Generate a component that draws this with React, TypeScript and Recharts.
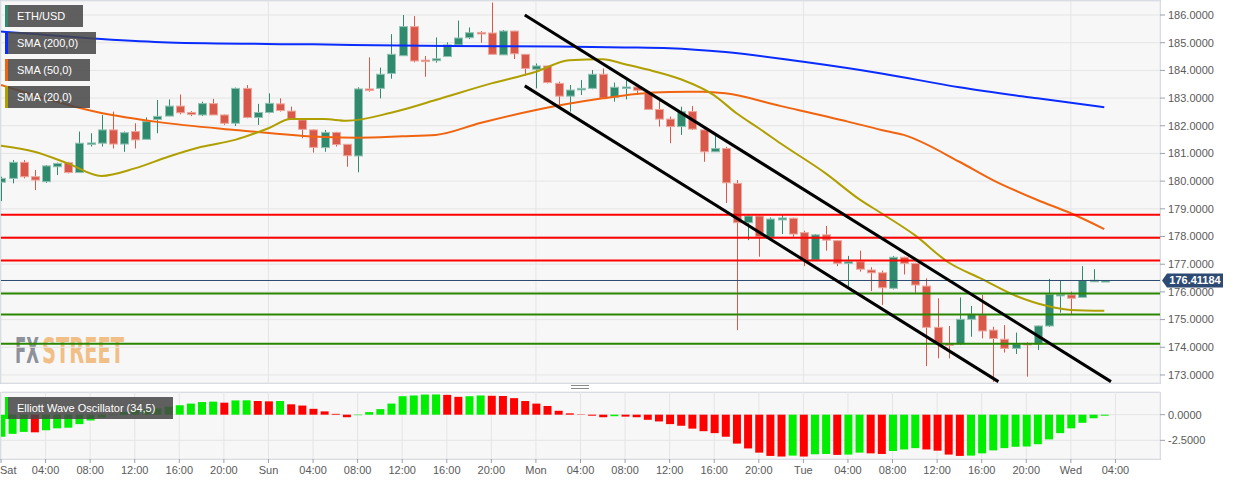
import React from "react";
import {
  ComposedChart,
  Bar,
  Line,
  XAxis,
  YAxis,
  CartesianGrid,
  ReferenceLine,
  Cell,
} from "recharts";

// Hourly ETH/USD candles, index = hours since Sat 00:00 (last one is Wed 03:00).
const opens = [
  179.96, 180.1, 180.68, 180.16, 179.98, 180.52, 180.67, 180.31, 181.37, 181.37,
  181.85, 181.34, 181.79, 181.51, 182.23, 182.35, 182.71, 182.48, 182.39, 182.8,
  182.39, 182.09, 183.35, 182.3, 182.48, 182.79, 182.53, 182.21, 181.85, 181.21,
  181.76, 181.33, 180.91, 183.33, 183.35, 183.89, 184.53, 185.58, 184.37, 184.35,
  184.5, 184.92, 185.18, 185.37, 185.35, 184.56, 185.42, 184.58, 184.04, 184.16,
  183.53, 183.07, 183.32, 183.35, 183.86, 183.03, 183.37, 183.4, 183.17, 182.59,
  182.24, 181.97, 182.51, 181.85, 181.06, 181.18, 179.92, 178.5, 178.74, 177.97,
  178.6, 178.66, 178.14, 177.15, 178.06, 177.85, 177.03, 177.09, 176.79, 176.69,
  176.13, 177.25, 177.03, 176.21, 174.72, 174.12, 174.12, 175.01, 175.17, 174.62,
  174.29, 173.96, 174.14, 174.12, 174.77, 175.86, 175.89, 175.8, 176.39, 176.39,
];
const highs = [
  180.16, 180.76, 180.76, 180.4, 180.58, 180.67, 180.7, 181.79, 181.73, 182.39,
  182.51, 181.79, 182.09, 182.3, 182.93, 182.95, 183.13, 182.53, 182.87, 182.97,
  182.41, 183.38, 183.47, 182.79, 183.17, 182.99, 182.69, 182.27, 181.87, 181.85,
  181.78, 181.33, 183.39, 184.47, 184.1, 185.31, 186.0, 185.96, 184.52, 185.19,
  185.01, 185.8, 185.55, 185.42, 186.45, 185.46, 185.43, 184.58, 184.25, 184.16,
  183.59, 183.47, 183.65, 184.01, 184.07, 183.56, 183.65, 183.47, 183.19, 182.95,
  182.33, 182.69, 182.71, 181.87, 181.63, 181.24, 180.04, 178.78, 178.76, 178.69,
  178.78, 178.68, 178.21, 178.09, 178.38, 177.87, 177.3, 177.49, 176.89, 176.77,
  177.3, 177.27, 177.05, 176.49, 175.77, 174.77, 175.8, 175.49, 175.89, 174.74,
  174.8, 174.53, 174.18, 174.79, 176.47, 176.41, 176.01, 176.93, 176.82, 176.43,
];
const lows = [
  179.28, 179.92, 180.1, 179.68, 179.94, 180.22, 180.28, 180.31, 181.25, 181.25,
  181.18, 181.06, 181.18, 181.51, 181.73, 182.35, 182.41, 182.35, 182.35, 182.39,
  182.03, 181.99, 182.27, 182.03, 182.45, 182.51, 182.21, 181.55, 181.03, 181.06,
  181.25, 180.52, 180.32, 183.23, 182.99, 183.7, 184.53, 184.29, 183.77, 184.28,
  184.5, 184.92, 185.13, 185.0, 184.56, 184.56, 184.41, 183.81, 183.35, 183.53,
  182.71, 182.51, 183.11, 183.32, 183.0, 182.87, 182.95, 183.11, 182.57, 181.97,
  181.37, 181.67, 181.85, 180.7, 181.06, 179.21, 174.62, 177.87, 177.27, 177.93,
  178.09, 177.99, 176.93, 177.15, 177.49, 176.93, 176.19, 176.73, 176.03, 175.53,
  176.09, 176.63, 175.97, 173.32, 173.6, 173.6, 174.08, 174.38, 174.32, 172.75,
  173.81, 173.76, 172.94, 173.9, 174.74, 175.25, 175.2, 175.8, 176.37, 176.37,
];
const closes = [
  180.1, 180.68, 180.16, 180.04, 180.55, 180.64, 180.31, 181.37, 181.38, 181.85,
  181.34, 181.75, 181.49, 182.15, 182.34, 182.71, 182.47, 182.41, 182.8, 182.39,
  182.09, 183.35, 182.3, 182.48, 182.81, 182.55, 182.23, 181.87, 181.22, 181.76,
  181.32, 180.92, 183.33, 183.28, 183.86, 184.58, 185.58, 184.34, 184.33, 184.42,
  184.92, 185.17, 185.36, 185.34, 184.58, 185.42, 184.6, 184.07, 184.16, 183.56,
  183.07, 183.29, 183.35, 183.86, 183.0, 183.39, 183.4, 183.28, 182.59, 182.24,
  181.97, 182.51, 181.88, 181.06, 181.18, 179.94, 178.5, 178.74, 177.99, 178.63,
  178.67, 178.09, 177.15, 178.06, 177.87, 177.03, 177.09, 176.82, 176.69, 176.15,
  177.25, 177.03, 176.25, 174.72, 174.12, 174.08, 175.01, 175.19, 174.59, 174.32,
  173.96, 174.12, 174.12, 174.77, 175.91, 175.91, 175.77, 176.41, 176.42, 176.41,
];

// Elliott Wave Oscillator (34,5), one value per candle
const ewo = [
  -2.15, -1.87, -1.68, -1.72, -1.52, -1.33, -1.27, -0.92, -0.57, -0.28,
  -0.05, 0.25, 0.45, 0.52, 0.62, 0.78, 0.92, 1.08, 1.23, 1.27,
  1.17, 1.39, 1.4, 1.33, 1.3, 1.33, 1.01, 0.89, 0.57, 0.32,
  0.08, -0.25, -0.05, 0.25, 0.54, 1.08, 1.8, 1.87, 1.96, 1.97,
  1.93, 1.74, 1.8, 1.87, 1.84, 1.82, 1.61, 1.33, 1.08, 0.85,
  0.38, 0.13, -0.03, -0.1, -0.25, -0.15, -0.19, -0.25, -0.5, -0.66,
  -0.92, -1.08, -1.36, -1.61, -1.8, -2.15, -2.82, -3.29, -3.7, -4.02,
  -4.08, -3.99, -4.08, -3.86, -3.83, -3.92, -3.89, -3.7, -3.77, -3.83,
  -3.54, -3.39, -3.26, -3.39, -3.51, -3.89, -4.02, -3.99, -3.77, -3.48,
  -3.26, -3.13, -3.1, -2.88, -2.41, -1.8, -1.33, -0.79, -0.35, -0.1,
];

// moving averages, read at a handful of candles
const sma20Hours = [0, 3, 6, 9, 12, 15, 18, 21, 24, 26, 29, 31, 35, 39, 44, 48, 51, 54, 56, 58, 61, 64, 66, 68, 70, 74, 77, 79, 82, 85, 88, 91, 94, 96, 99];
const sma20Values = [181.28, 181.06, 180.64, 180.19, 180.46, 180.88, 181.24, 181.49, 181.91, 182.24, 182.24, 182.18, 182.47, 182.93, 183.53, 183.95, 184.37, 184.4, 184.22, 184.03, 183.68, 183.1, 182.45, 181.91, 181.35, 180.28, 179.35, 178.84, 178.05, 177.07, 176.47, 175.87, 175.48, 175.35, 175.32];
const sma50Hours = [0, 9, 14, 21, 29, 32, 36, 39, 43, 48, 54, 57, 60, 63, 65, 70, 76, 79, 81, 86, 89, 93, 96, 99];
const sma50Values = [183.47, 182.46, 182.14, 181.85, 181.59, 181.57, 181.62, 181.67, 182.1, 182.57, 182.99, 183.15, 183.22, 183.23, 183.17, 182.71, 182.15, 181.85, 181.67, 180.7, 180.04, 179.32, 178.84, 178.27];
const sma200Hours = [0, 3, 9, 15, 28, 40, 50, 56, 60, 65, 72, 79, 86, 93, 99];
const sma200Values = [185.4, 185.31, 185.13, 185.01, 184.94, 184.88, 184.86, 184.83, 184.8, 184.66, 184.31, 183.89, 183.39, 182.99, 182.67];

// descending channel: [hour, price] at both ends
const channelUpper = [[47, 186.0], [99.6, 172.76]];
const channelLower = [[47, 183.44], [89.5, 172.76]];

const resistance = [178.79, 177.96, 177.13];
const support = [175.94, 175.18, 174.13];
const lastPrice = 176.41184;

const priceTicks = [173, 174, 175, 176, 177, 178, 179, 180, 181, 182, 183, 184, 185, 186];
const ewoTicks = [0, -2.5];
const dayHours = [24, 48, 72, 96];
const tickLabels = [
  "Sat", "04:00", "08:00", "12:00", "16:00", "20:00",
  "Sun", "04:00", "08:00", "12:00", "16:00", "20:00",
  "Mon", "04:00", "08:00", "12:00", "16:00", "20:00",
  "Tue", "04:00", "08:00", "12:00", "16:00", "20:00",
  "Wed", "04:00",
];
const timeTicks = tickLabels.map((_, i) => i * 4);

const FONT = "'Liberation Sans', Arial, sans-serif";
const UP = "#2f8a6e";
const DOWN = "#d8584a";

const pick = (hours: number[], values: number[], h: number) => {
  const k = hours.indexOf(h);
  return k >= 0 ? values[k] : null;
};

const data = opens.map((o, i) => ({
  h: i,
  open: o,
  high: highs[i],
  low: lows[i],
  close: closes[i],
  range: [lows[i], highs[i]],
  ewo: ewo[i],
  sma20: pick(sma20Hours, sma20Values, i),
  sma50: pick(sma50Hours, sma50Values, i),
  sma200: pick(sma200Hours, sma200Values, i),
}));

function Candle(props: any) {
  const { x, y, width, height, payload } = props;
  const { open, close, high, low } = payload;
  const top = Math.min(y, y + height);
  const span = Math.abs(height);
  const toY = (p: number) =>
    high === low ? top : top + ((high - p) / (high - low)) * span;
  const up = close >= open;
  const color = up ? UP : DOWN;
  const bTop = toY(Math.max(open, close));
  const bBot = toY(Math.min(open, close));
  const cx = Math.round(x + width / 2) + 0.5;
  return (
    <g>
      <line x1={cx} x2={cx} y1={top} y2={top + span} stroke={color} strokeWidth={1} />
      <rect
        x={cx - 4}
        y={bTop}
        width={8}
        height={Math.max(1.5, bBot - bTop)}
        fill={color}
        stroke={up ? "#93c3b4" : "#eea69d"}
        strokeWidth={1}
      />
    </g>
  );
}

function PriceTag(props: any) {
  const { viewBox } = props;
  const x0 = viewBox.x + viewBox.width;
  const y0 = viewBox.y;
  return (
    <g>
      <path
        d={`M${x0 + 2},${y0} L${x0 + 7},${y0 - 7} L${x0 + 63},${y0 - 7} L${x0 + 63},${y0 + 7} L${x0 + 7},${y0 + 7} Z`}
        fill="#2d4b72"
      />
      <text
        x={x0 + 35}
        y={y0}
        dy="0.36em"
        textAnchor="middle"
        fill="#fff"
        fontSize={11}
        fontWeight="bold"
        fontFamily={FONT}
      >
        {lastPrice.toFixed(5)}
      </text>
    </g>
  );
}

function TimeTick(props: any) {
  const { x, y, payload } = props;
  const first = payload.value === 0;
  return (
    <text
      x={first ? 0 : x}
      y={y}
      dy="0.71em"
      textAnchor={first ? "start" : "middle"}
      fill="#5a5a5a"
      fontSize={11}
      fontFamily={FONT}
    >
      {tickLabels[payload.value / 4]}
    </text>
  );
}

function Tag({ top, width, color, text }: { top: number; width: number; color: string; text: string }) {
  return (
    <div
      style={{
        position: "absolute",
        left: 5,
        top,
        width,
        height: 22,
        background: "rgba(70,70,70,0.86)",
        borderLeft: `3px solid ${color}`,
        boxSizing: "border-box",
        color: "#fff",
        fontSize: 11,
        lineHeight: "22px",
        paddingLeft: 9,
        whiteSpace: "nowrap",
      }}
    >
      {text}
    </div>
  );
}

const panel: React.CSSProperties = {
  position: "absolute",
  left: 0,
  width: 1161,
  background: "#f7f7f7",
  border: "1px solid #ccd3e3",
  boxSizing: "border-box",
};

const markFont = "'DejaVu Sans Condensed', 'Liberation Sans Narrow', sans-serif";

export default function App() {
  return (
    <div
      style={{
        position: "absolute",
        left: 0,
        top: 0,
        width: 1244,
        height: 485,
        background: "#fff",
        fontFamily: FONT,
        overflow: "hidden",
      }}
    >
      <div style={{ ...panel, top: 0, height: 384 }} />
      <div style={{ ...panel, top: 392, height: 68 }} />
      <div
        style={{
          position: "absolute",
          left: 571,
          top: 385,
          width: 18,
          height: 2,
          borderTop: "1px solid #8a8a8a",
          borderBottom: "1px solid #8a8a8a",
        }}
      />
      <svg style={{ position: "absolute", left: 0, top: 0 }} width={200} height={384}>
        <g transform="translate(15,363) scale(1,1.75)">
          <text x={0} y={0} fontSize={20} fontWeight="bold" fontFamily={markFont} fill="#8d9199" textLength={24} lengthAdjust="spacingAndGlyphs">
            FX
          </text>
          <text x={27} y={0} fontSize={20} fontWeight="bold" fontFamily={markFont} fill="#f1bf86" textLength={82} lengthAdjust="spacingAndGlyphs">
            STREET
          </text>
        </g>
      </svg>

      <div style={{ position: "absolute", left: 0, top: 0 }}>
        <ComposedChart
          width={1244}
          height={384}
          data={data}
          margin={{ top: 1, right: 0, left: 1, bottom: 1 }}
        >
          <CartesianGrid stroke="#e5e5e5" />
          <XAxis dataKey="h" type="number" domain={[0, 104]} ticks={dayHours} hide allowDataOverflow />
          <YAxis
            orientation="right"
            width={84}
            domain={[172.71, 186.5056]}
            allowDataOverflow
            ticks={priceTicks}
            tickFormatter={(v: number) => v.toFixed(4)}
            tick={{ fill: "#5a5a5a", fontSize: 11, fontFamily: FONT }}
            tickLine={{ stroke: "#9aa0ad" }}
            tickSize={5}
            tickMargin={3}
            axisLine={false}
          />
          <Line dataKey="sma200" type="monotone" stroke="#0a2cff" strokeWidth={2} dot={false} connectNulls isAnimationActive={false} />
          <Line dataKey="sma50" type="monotone" stroke="#f06410" strokeWidth={2} dot={false} connectNulls isAnimationActive={false} />
          <Line dataKey="sma20" type="monotone" stroke="#b09f00" strokeWidth={2} dot={false} connectNulls isAnimationActive={false} />
          <Bar dataKey="range" barSize={8} shape={(p: any) => <Candle {...p} />} isAnimationActive={false} />
          {resistance.map((v) => (
            <ReferenceLine key={`r${v}`} y={v} stroke="#ff0000" strokeWidth={2} />
          ))}
          {support.map((v) => (
            <ReferenceLine key={`s${v}`} y={v} stroke="#2a8600" strokeWidth={2} />
          ))}
          <ReferenceLine y={lastPrice} stroke="#2d4b72" strokeWidth={1} label={<PriceTag />} />
          <ReferenceLine
            segment={[{ x: channelUpper[0][0], y: channelUpper[0][1] }, { x: channelUpper[1][0], y: channelUpper[1][1] }]}
            stroke="#000"
            strokeWidth={3}
          />
          <ReferenceLine
            segment={[{ x: channelLower[0][0], y: channelLower[0][1] }, { x: channelLower[1][0], y: channelLower[1][1] }]}
            stroke="#000"
            strokeWidth={3}
          />
        </ComposedChart>
      </div>

      <div style={{ position: "absolute", left: 0, top: 385 }}>
        <ComposedChart
          width={1244}
          height={100}
          data={data}
          margin={{ top: 7, right: 0, left: 1, bottom: 0 }}
        >
          <CartesianGrid stroke="#e5e5e5" />
          <XAxis
            dataKey="h"
            type="number"
            domain={[0, 104]}
            ticks={timeTicks}
            interval={0}
            height={26}
            axisLine={false}
            tickLine={{ stroke: "#9aa0ad" }}
            tickSize={4}
            tickMargin={3}
            tick={<TimeTick />}
            allowDataOverflow
          />
          <YAxis
            orientation="right"
            width={84}
            domain={[-4.32, 2.21]}
            allowDataOverflow
            ticks={ewoTicks}
            tickFormatter={(v: number) => v.toFixed(4)}
            tick={{ fill: "#5a5a5a", fontSize: 11, fontFamily: FONT }}
            tickLine={{ stroke: "#9aa0ad" }}
            tickSize={5}
            tickMargin={3}
            axisLine={false}
          />
          <Bar dataKey="ewo" barSize={8} isAnimationActive={false}>
            {data.map((d, i) => (
              <Cell key={i} fill={i > 0 && d.ewo < ewo[i - 1] ? "#ff0000" : "#00ee00"} />
            ))}
          </Bar>
        </ComposedChart>
      </div>

      <Tag top={5} width={78} color={UP} text="ETH/USD" />
      <Tag top={32} width={91} color="#0a2cff" text="SMA (200,0)" />
      <Tag top={59} width={85} color="#f06410" text="SMA (50,0)" />
      <Tag top={86} width={85} color="#b09f00" text="SMA (20,0)" />
      <Tag top={397} width={168} color="#00ee00" text="Elliott Wave Oscillator (34,5)" />
    </div>
  );
}
